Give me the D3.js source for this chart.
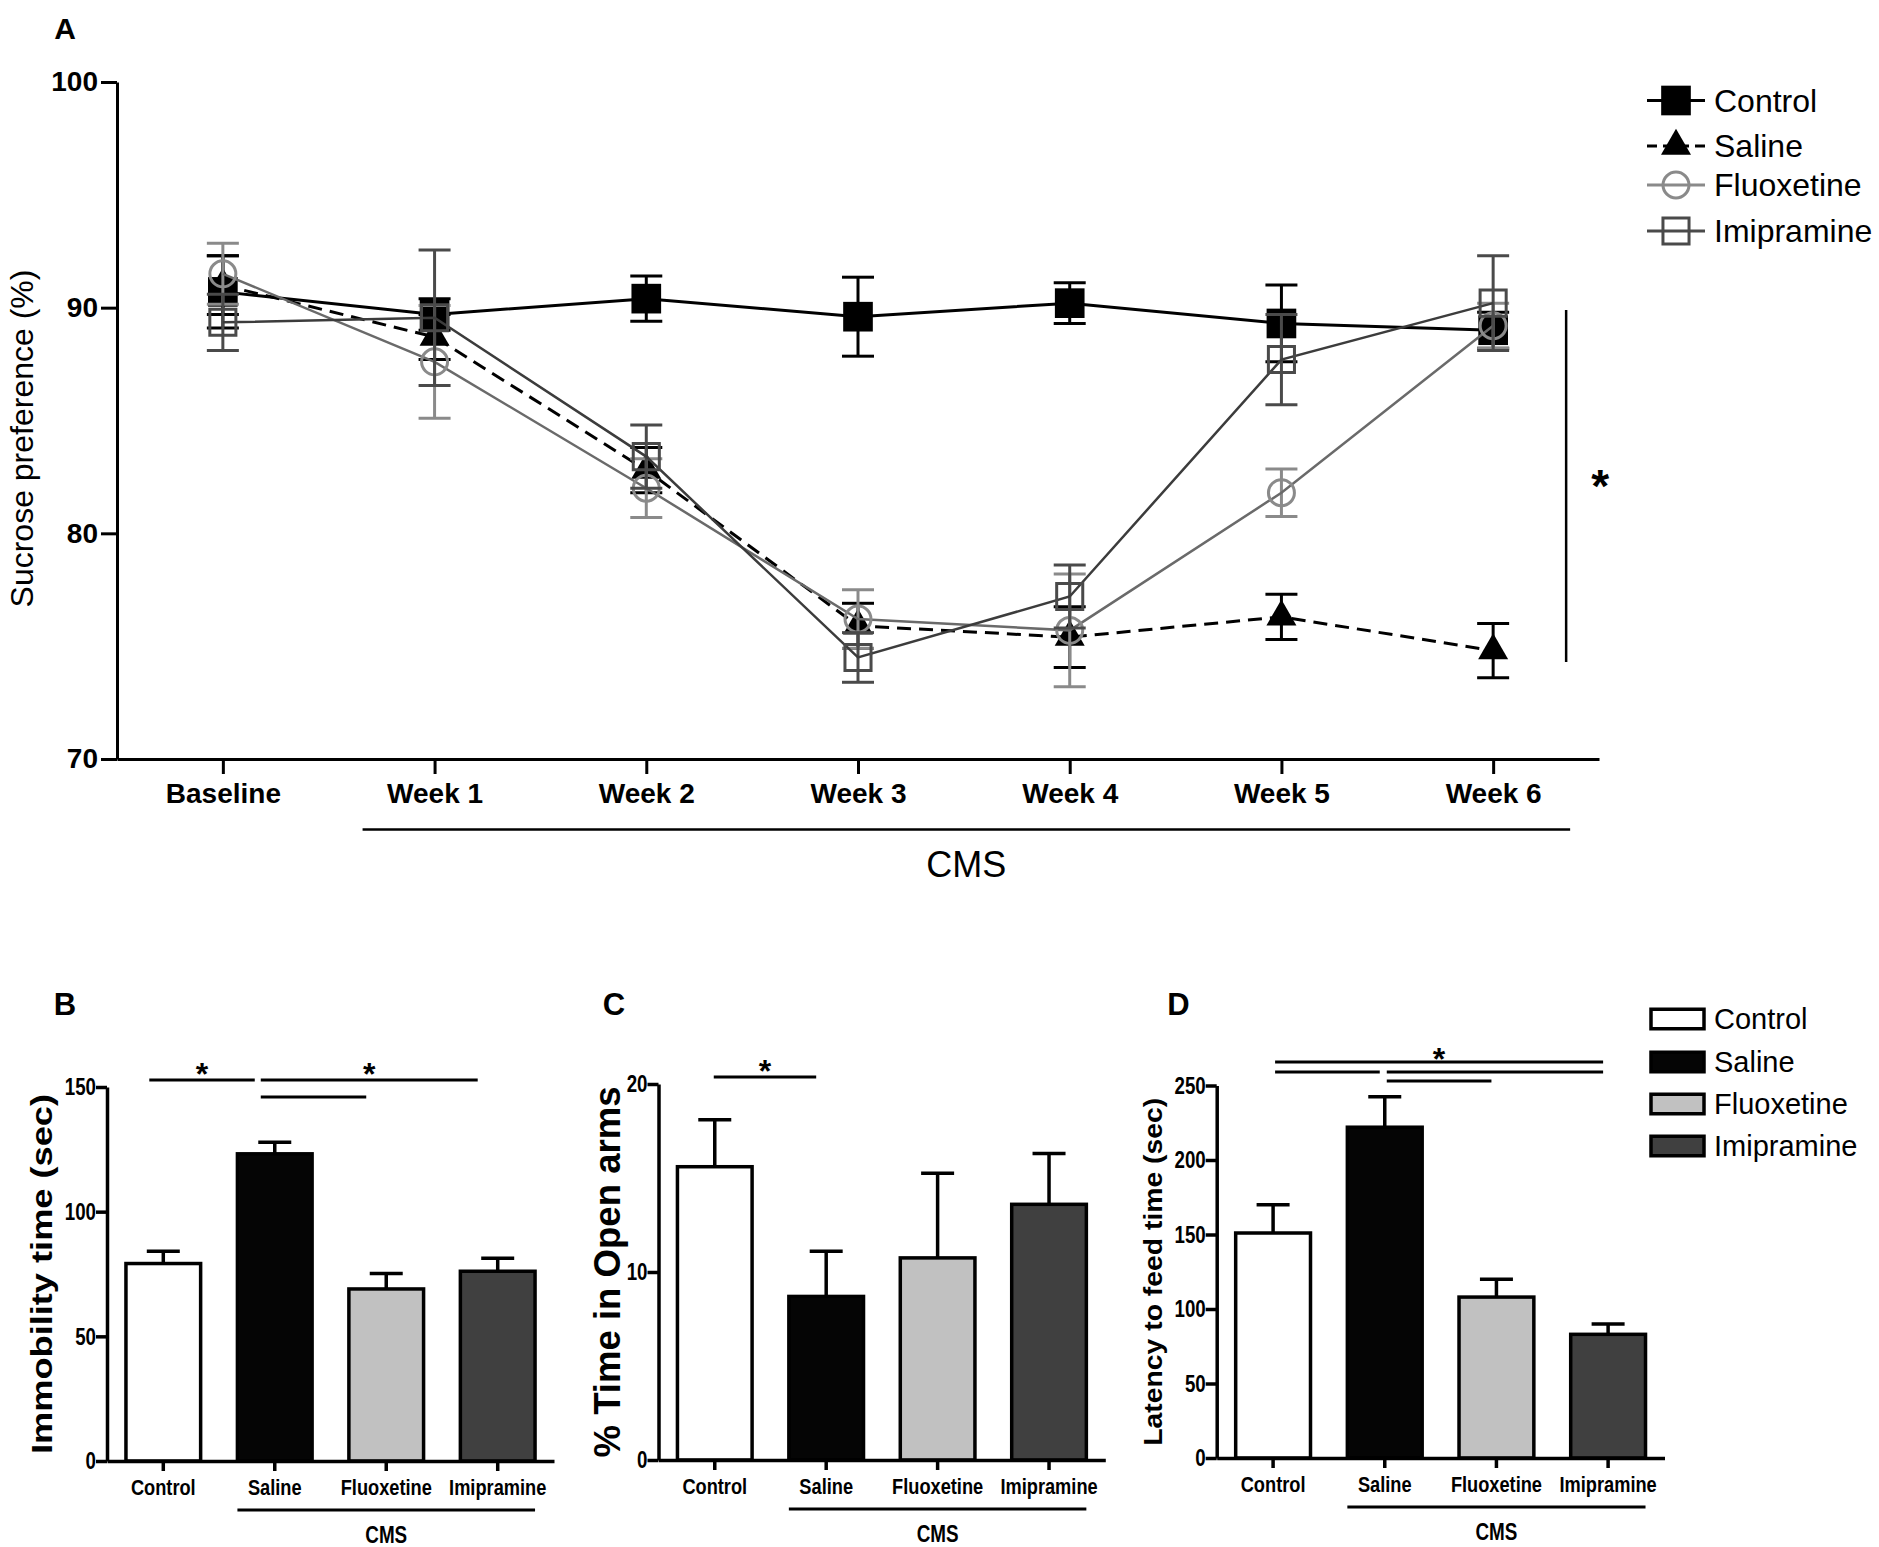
<!DOCTYPE html>
<html>
<head>
<meta charset="utf-8">
<script src="https://cdn.jsdelivr.net/npm/d3@7"></script>
<style>
  body { margin: 0; background: #fff; }
  text { font-family: 'Liberation Sans', Arial, Helvetica, sans-serif; }
</style>
</head>
<body>
<svg width="1879" height="1547"></svg>
<script>
// ---- data: panel A, sucrose preference (%) ----
const weeks = ['Baseline', 'Week 1', 'Week 2', 'Week 3', 'Week 4', 'Week 5', 'Week 6']
const controlMean = [90.7, 89.7, 90.4, 89.6, 90.2, 89.3, 89.0]
const controlErr = [1.6, 0.7, 1.0, 1.75, 0.9, 1.7, 0.8]
const salineMean = [91.0, 88.7, 82.8, 75.9, 75.4, 76.3, 74.8]
const salineErr = [1.3, 1.0, 1.0, 1.0, 1.35, 1.0, 1.2]
const fluoxetineMean = [91.5, 87.6, 82.0, 76.2, 75.7, 81.8, 89.2]
const fluoxetineErr = [1.35, 2.5, 1.3, 1.3, 2.5, 1.05, 1.0]
const imipramineMean = [89.35, 89.55, 83.4, 74.5, 77.2, 87.7, 90.2]
const imipramineErr = [1.25, 3.0, 1.4, 1.1, 1.4, 2.0, 2.1]
const sucroseTicks = [70, 80, 90, 100]

// ---- data: panels B-D ----
const groups = ['Control', 'Saline', 'Fluoxetine', 'Imipramine']
const immobilityMean = [79.2, 123.2, 69.0, 76.1]
const immobilityErr = [4.9, 4.6, 6.2, 5.2]
const immobilityTicks = [0, 50, 100, 150]
const openArmsMean = [15.6, 8.7, 10.75, 13.6]
const openArmsErr = [2.5, 2.4, 4.5, 2.7]
const openArmsTicks = [0, 10, 20]
const latencyMean = [151, 222, 108, 83]
const latencyErr = [19, 20.5, 12, 7]
const latencyTicks = [0, 50, 100, 150, 200, 250]

const svg = d3.select('svg')

const sym = {
  square: d3.symbol().type(d3.symbolSquare).size(880),
  openSquare: d3.symbol().type(d3.symbolSquare).size(680),
  triangle: d3.symbol().type(d3.symbolTriangle).size(390),
  circle: d3.symbol().type(d3.symbolCircle).size(530)
}

// ================= panel A =================
const xA = d3.scalePoint().domain(weeks).range([117, 1599]).padding(0.5)
const yA = d3.scaleLinear().domain([70, 100]).range([759, 82])

const seriesA = [
  { name: 'Control', mean: controlMean, err: controlErr, line: '#000', mark: '#000', sym: 'square', fill: '#000', dash: null, lw: 3 },
  { name: 'Saline', mean: salineMean, err: salineErr, line: '#000', mark: '#000', sym: 'triangle', fill: '#000', dash: '14,8', lw: 3 },
  { name: 'Fluoxetine', mean: fluoxetineMean, err: fluoxetineErr, line: '#6a6a6a', mark: '#8a8a8a', sym: 'circle', fill: 'none', dash: null, lw: 2.5 },
  { name: 'Imipramine', mean: imipramineMean, err: imipramineErr, line: '#3c3c3c', mark: '#4a4a4a', sym: 'openSquare', fill: 'none', dash: null, lw: 2.5 }
]

const gA = svg.append('g')

gA.append('g')
  .attr('transform', `translate(0, ${yA(70)})`)
  .call(d3.axisBottom(xA).tickSize(15).tickPadding(9).tickSizeOuter(0))
  .call(g => g.select('.domain').attr('stroke-width', 3))
  .call(g => g.selectAll('.tick line').attr('stroke-width', 3))
  .call(g => g.selectAll('.tick text').attr('font-size', 28).attr('font-weight', 'bold').attr('fill', '#000'))

gA.append('g')
  .attr('transform', `translate(${xA.range()[0]}, 0)`)
  .call(d3.axisLeft(yA).tickValues(sucroseTicks).tickSize(16).tickPadding(3).tickSizeOuter(0))
  .call(g => g.select('.domain').attr('stroke-width', 3))
  .call(g => g.selectAll('.tick line').attr('stroke-width', 3))
  .call(g => g.selectAll('.tick text').attr('font-size', 28).attr('font-weight', 'bold').attr('fill', '#000'))

gA.append('text')
  .attr('transform', `translate(33, ${(yA(70) + yA(100)) / 2 + 18}) rotate(-90)`)
  .attr('text-anchor', 'middle')
  .attr('font-size', 32)
  .text('Sucrose preference (%)')

seriesA.forEach(s => {
  const sg = gA.append('g')
  // error bars
  s.mean.forEach((m, i) => {
    const cx = xA(weeks[i])
    const eb = sg.append('g').attr('stroke', s.mark).attr('stroke-width', 3)
    eb.append('line').attr('x1', cx).attr('x2', cx).attr('y1', yA(m - s.err[i])).attr('y2', yA(m + s.err[i]))
    eb.append('line').attr('x1', cx - 16).attr('x2', cx + 16).attr('y1', yA(m - s.err[i])).attr('y2', yA(m - s.err[i]))
    eb.append('line').attr('x1', cx - 16).attr('x2', cx + 16).attr('y1', yA(m + s.err[i])).attr('y2', yA(m + s.err[i]))
  })
  sg.append('path')
    .datum(s.mean)
    .attr('fill', 'none')
    .attr('stroke', s.line)
    .attr('stroke-width', s.lw)
    .attr('stroke-dasharray', s.dash)
    .attr('d', d3.line().x((d, i) => xA(weeks[i])).y(d => yA(d)))
  sg.selectAll('path.mk').data(s.mean).join('path')
    .attr('class', 'mk')
    .attr('transform', (d, i) => `translate(${xA(weeks[i])}, ${yA(d)})`)
    .attr('d', sym[s.sym])
    .attr('fill', s.fill)
    .attr('stroke', s.fill === 'none' ? s.mark : 'none')
    .attr('stroke-width', 3)
})

// CMS bracket
const cmsA = gA.append('g')
cmsA.append('line')
  .attr('x1', xA('Week 1') - 72).attr('x2', xA('Week 6') + 77)
  .attr('y1', 829.5).attr('y2', 829.5)
  .attr('stroke', '#000').attr('stroke-width', 2.5)
cmsA.append('text')
  .attr('x', (xA('Week 1') - 72 + xA('Week 6') + 77) / 2)
  .attr('y', 877)
  .attr('text-anchor', 'middle')
  .attr('font-size', 36)
  .text('CMS')

// significance
gA.append('line')
  .attr('x1', xA('Week 6') + 73).attr('x2', xA('Week 6') + 73)
  .attr('y1', yA(89.9)).attr('y2', yA(74.3))
  .attr('stroke', '#000').attr('stroke-width', 2.5)
gA.append('text')
  .attr('x', xA('Week 6') + 107).attr('y', 502)
  .attr('text-anchor', 'middle').attr('font-size', 46).attr('font-weight', 'bold')
  .text('*')

// legend A
const legRowsA = [100.5, 146, 185, 231]
seriesA.forEach((s, i) => {
  const lg = gA.append('g').attr('transform', `translate(1676, ${legRowsA[i]})`)
  lg.append('line').attr('x1', -29).attr('x2', 29)
    .attr('stroke', s.line === '#000' ? '#000' : s.mark).attr('stroke-width', 3)
    .attr('stroke-dasharray', s.dash ? '10,6' : null)
  lg.append('path').attr('d', sym[s.sym]).attr('fill', s.fill)
    .attr('stroke', s.fill === 'none' ? s.mark : 'none').attr('stroke-width', 3)
  lg.append('text').attr('x', 38).attr('dy', '0.35em').attr('font-size', 32).text(s.name)
})

gA.append('text').attr('x', 65).attr('y', 39).attr('text-anchor', 'middle')
  .attr('font-size', 30).attr('font-weight', 'bold').text('A')

// ================= panels B, C, D =================
const barFills = ['#ffffff', '#050505', '#c1c1c1', '#404040']

function barPanel(p) {
  const x = d3.scaleBand().domain(groups).range([p.x0, p.x1]).paddingInner(0.33).paddingOuter(0.17)
  const y = d3.scaleLinear().domain([0, p.ticks[p.ticks.length - 1]]).range([p.y0, p.y1])
  const g = svg.append('g')
  const cx = d => x(d) + x.bandwidth() / 2

  // error bars (upper only)
  groups.forEach((d, i) => {
    const eb = g.append('g').attr('stroke', '#000').attr('stroke-width', 3.5)
    eb.append('line').attr('x1', cx(d)).attr('x2', cx(d)).attr('y1', y(p.mean[i])).attr('y2', y(p.mean[i] + p.err[i]))
    eb.append('line').attr('x1', cx(d) - 16.5).attr('x2', cx(d) + 16.5).attr('y1', y(p.mean[i] + p.err[i])).attr('y2', y(p.mean[i] + p.err[i]))
  })

  g.selectAll('rect.bar').data(groups).join('rect')
    .attr('class', 'bar')
    .attr('x', d => x(d))
    .attr('y', (d, i) => y(p.mean[i]))
    .attr('width', x.bandwidth())
    .attr('height', (d, i) => y(0) - y(p.mean[i]))
    .attr('fill', (d, i) => barFills[i])
    .attr('stroke', '#000')
    .attr('stroke-width', 3.5)

  g.append('g')
    .attr('transform', `translate(0, ${p.y0})`)
    .call(d3.axisBottom(x).tickSize(10).tickPadding(8).tickSizeOuter(0))
    .call(a => a.select('.domain').attr('stroke-width', 3.5))
    .call(a => a.selectAll('.tick line').attr('stroke-width', 3.5))
    .call(a => a.selectAll('.tick text').attr('font-size', 22.5).attr('font-weight', 'bold').attr('fill', '#000')
      .attr('transform', 'scale(0.81,1)'))

  g.append('g')
    .attr('transform', `translate(${p.x0}, 0)`)
    .call(d3.axisLeft(y).tickValues(p.ticks).tickSize(11).tickPadding(0).tickSizeOuter(0))
    .call(a => a.select('.domain').attr('stroke-width', 3.5))
    .call(a => a.selectAll('.tick line').attr('stroke-width', 3.5))
    .call(a => a.selectAll('.tick text').attr('font-size', 24).attr('font-weight', 'bold').attr('fill', '#000')
      .attr('transform', 'scale(0.78,1)').attr('x', -11 / 0.78))

  // y title
  g.append('text')
    .attr('transform', `translate(${p.titleX}, ${(p.y0 + p.y1) / 2}) rotate(-90)`)
    .attr('text-anchor', 'middle')
    .attr('font-size', p.titleSize)
    .attr('font-weight', 'bold')
    .attr('textLength', p.titleLen)
    .attr('lengthAdjust', 'spacingAndGlyphs')
    .text(p.title)

  // CMS bracket
  const c0 = x('Saline'), c1 = x('Imipramine') + x.bandwidth()
  g.append('line').attr('x1', c0).attr('x2', c1).attr('y1', p.y0 + 49).attr('y2', p.y0 + 49)
    .attr('stroke', '#000').attr('stroke-width', 3)
  g.append('text').attr('transform', `translate(${(c0 + c1) / 2}, ${p.y0 + 82}) scale(0.82,1)`)
    .attr('text-anchor', 'middle').attr('font-size', 23).attr('font-weight', 'bold').text('CMS')

  // significance lines
  p.sig.forEach(s => {
    const a = cx(s.from) + p.sigDx[0], b = cx(s.to) + p.sigDx[1]
    const ly = p.sigLevels[s.level]
    g.append('line').attr('x1', a).attr('x2', b).attr('y1', ly).attr('y2', ly)
      .attr('stroke', '#000').attr('stroke-width', 3)
    if (s.star) {
      g.append('text').attr('x', (a + b) / 2).attr('y', ly + p.starDy)
        .attr('text-anchor', 'middle').attr('font-size', 32).attr('font-weight', 'bold').text('*')
    }
  })

  g.append('text').attr('x', p.labelX).attr('y', 1015).attr('text-anchor', 'middle')
    .attr('font-size', 31).attr('font-weight', 'bold').text(p.label)
}

barPanel({
  label: 'B', labelX: 65,
  x0: 107, x1: 554, y0: 1461, y1: 1087,
  mean: immobilityMean, err: immobilityErr, ticks: immobilityTicks,
  title: 'Immobility time (sec)', titleX: 52, titleSize: 29, titleLen: 360,
  sig: [
    { from: 'Control', to: 'Saline', level: 0, star: true },
    { from: 'Saline', to: 'Imipramine', level: 0, star: true },
    { from: 'Saline', to: 'Fluoxetine', level: 1, star: false }
  ],
  sigLevels: [1080, 1097], sigDx: [-14, -20], starDy: 5
})

barPanel({
  label: 'C', labelX: 614,
  x0: 658.5, x1: 1105.3, y0: 1460, y1: 1084,
  mean: openArmsMean, err: openArmsErr, ticks: openArmsTicks,
  title: '% Time in Open arms', titleX: 620, titleSize: 36, titleLen: 371,
  sig: [{ from: 'Control', to: 'Saline', level: 0, star: true }],
  sigLevels: [1077], sigDx: [-1, -10], starDy: 5
})

barPanel({
  label: 'D', labelX: 1178.5,
  x0: 1216.7, x1: 1664.5, y0: 1458, y1: 1085.5,
  mean: latencyMean, err: latencyErr, ticks: latencyTicks,
  title: 'Latency to feed time (sec)', titleX: 1162, titleSize: 25, titleLen: 348,
  sig: [
    { from: 'Control', to: 'Imipramine', level: 0, star: true },
    { from: 'Control', to: 'Saline', level: 1, star: false },
    { from: 'Saline', to: 'Imipramine', level: 1, star: false },
    { from: 'Saline', to: 'Fluoxetine', level: 2, star: false }
  ],
  sigLevels: [1062, 1072, 1081], sigDx: [2, -5], starDy: 8
})

// legend for bar panels
const legRowsD = [1019, 1062, 1104, 1146]
groups.forEach((d, i) => {
  const lg = svg.append('g').attr('transform', `translate(1651, ${legRowsD[i]})`)
  lg.append('rect').attr('x', 0).attr('y', -9.75).attr('width', 53).attr('height', 19.5)
    .attr('fill', barFills[i]).attr('stroke', '#000').attr('stroke-width', 3.5)
  lg.append('text').attr('x', 63).attr('dy', '0.36em').attr('font-size', 29).text(d)
})
</script>
</body>
</html>
